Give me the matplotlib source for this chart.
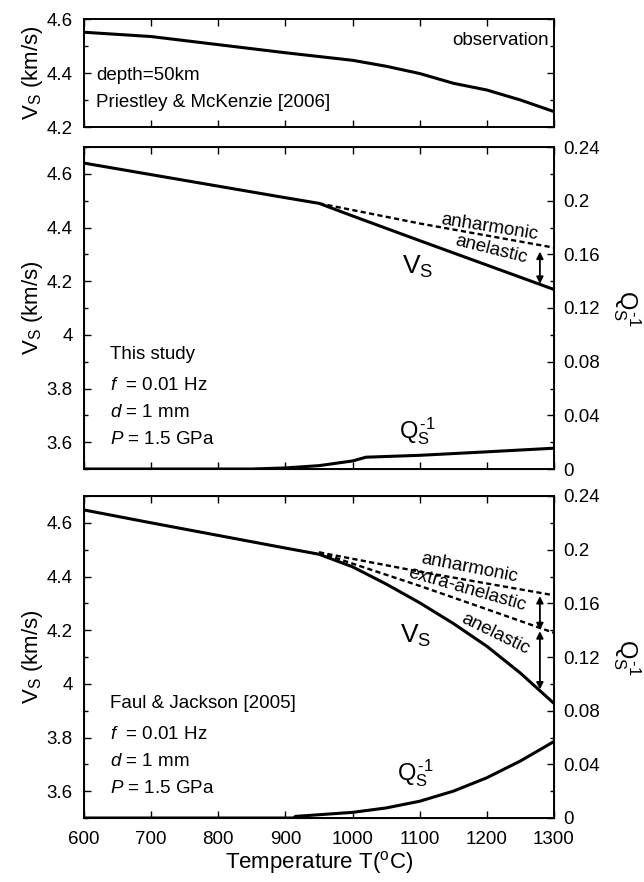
import matplotlib
matplotlib.use("Agg")
import matplotlib.pyplot as plt
from matplotlib.ticker import MultipleLocator

plt.rcParams['font.family'] = ['Liberation Sans', 'DejaVu Sans']
plt.rcParams['mathtext.fontset'] = 'custom'
plt.rcParams['mathtext.rm'] = 'Liberation Sans'
plt.rcParams['mathtext.it'] = 'Liberation Sans:italic'
plt.rcParams['mathtext.bf'] = 'Liberation Sans:bold'

# ---- data ----
obs_T = [600, 700, 800, 900, 1000, 1050, 1100, 1150, 1200, 1250, 1300]
obs_V = [4.551, 4.535, 4.505, 4.475, 4.447, 4.425, 4.398, 4.362, 4.337, 4.300, 4.257]

# This study
mid_T_vs = [600, 700, 800, 900, 950, 1000, 1100, 1200, 1300]
mid_vs = [4.640, 4.597, 4.554, 4.511, 4.490, 4.443, 4.351, 4.260, 4.169]
mid_T_anh = [950, 1000, 1100, 1200, 1300]
mid_anh = [4.490, 4.465, 4.415, 4.370, 4.325]
mid_T_q = [600, 850, 900, 950, 1000, 1020, 1100, 1200, 1300]
mid_q = [0.0, 0.0, 0.0008, 0.0025, 0.006, 0.0088, 0.0102, 0.0128, 0.0155]

# Faul & Jackson
bot_T_vs = [600, 700, 800, 900, 950, 1000, 1050, 1100, 1150, 1200, 1250, 1300]
bot_vs = [4.648, 4.600, 4.553, 4.506, 4.483, 4.436, 4.372, 4.302, 4.225, 4.140, 4.040, 3.927]
bot_T_anh = [950, 1000, 1100, 1200, 1300]
bot_anh = [4.490, 4.466, 4.418, 4.374, 4.330]
bot_T_ext = [950, 1000, 1100, 1200, 1300]
bot_ext = [4.490, 4.448, 4.365, 4.278, 4.190]
bot_T_q = [600, 912, 915, 1000, 1050, 1100, 1150, 1200, 1250, 1300]
bot_q = [0.0, 0.0, 0.0012, 0.0042, 0.0075, 0.0125, 0.020, 0.030, 0.0425, 0.057]

xticks = [600, 700, 800, 900, 1000, 1100, 1200, 1300]

fig = plt.figure(figsize=(6.44, 8.82), dpi=100)
L, W = 84 / 644, 470 / 644
ax0 = fig.add_axes([L, 1 - 127 / 882, W, 108 / 882])
ax1 = fig.add_axes([L, 1 - 469 / 882, W, 322 / 882])
ax2 = fig.add_axes([L, 1 - 818 / 882, W, 322 / 882])

FS = 13.5
LW = 2.2
YLFS = 16
QFS = 17
QLAB = 'Q$_\\mathrm{S}^{\\,\\mathrm{\u20101}}$'

def style(ax, labelbottom=False, right=True):
    ax.set_xlim(600, 1300)
    ax.set_xticks(xticks)
    for s in ax.spines.values():
        s.set_linewidth(1.4)
    ax.tick_params(which='both', direction='in', top=True, right=right,
                   labelbottom=labelbottom, labelsize=FS, width=1.0)
    ax.tick_params(which='major', length=5)
    ax.tick_params(which='minor', length=3)
    ax.tick_params(axis='y', pad=8)
    ax.tick_params(axis='x', pad=9)

# top panel
ax0.plot(obs_T, obs_V, color='black', lw=LW)
ax0.set_ylim(4.2, 4.6)
ax0.yaxis.set_major_locator(MultipleLocator(0.2))
ax0.yaxis.set_minor_locator(MultipleLocator(0.1))
style(ax0)
ax0.set_ylabel('V$_\\mathrm{S}$ (km/s)', fontsize=YLFS, labelpad=1)
ax0.text(1292, 4.52, 'observation', fontsize=FS, ha='right', va='center')
ax0.text(618, 4.39, 'depth=50km', fontsize=FS, ha='left', va='center')
ax0.text(618, 4.29, 'Priestley & McKenzie [2006]', fontsize=FS, ha='left', va='center')

def vs_panel(ax, lab_lines):
    ax.set_ylim(3.5, 4.7)
    ax.yaxis.set_minor_locator(MultipleLocator(0.1))
    ax.set_yticks([3.6, 3.8, 4.0, 4.2, 4.4, 4.6])
    ax.set_yticklabels(['3.6', '3.8', '4', '4.2', '4.4', '4.6'])
    ax.set_ylabel('V$_\\mathrm{S}$ (km/s)', fontsize=YLFS, labelpad=1)
    ys = [3.925, 3.81, 3.71, 3.61]
    for t, y in zip(lab_lines, ys):
        ax.text(638, y, t, fontsize=FS, ha='left', va='center')
    axr = ax.twinx()
    axr.set_ylim(0, 0.24)
    axr.set_yticks([0, 0.04, 0.08, 0.12, 0.16, 0.2, 0.24])
    axr.set_yticklabels(['0', '0.04', '0.08', '0.12', '0.16', '0.2', '0.24'])
    axr.yaxis.set_minor_locator(MultipleLocator(0.02))
    axr.tick_params(which='both', direction='in', labelsize=FS, width=1.0)
    axr.tick_params(which='major', length=5, pad=7)
    axr.tick_params(which='minor', length=3)
    axr.set_ylabel(QLAB, fontsize=QFS, rotation=270, va='center', ha='center')
    axr.yaxis.set_label_coords(1.155, 0.5)
    return axr

ARW = dict(arrowstyle='<|-|>', color='black', lw=1.3,
           mutation_scale=10, shrinkA=0, shrinkB=0)
DASH = (0, (2.2, 1.4))

# middle panel
style(ax1, right=False)
r1 = vs_panel(ax1, ['This study', '$f$  = 0.01 Hz', '$d$ = 1 mm', '$P$ = 1.5 GPa'])
ax1.plot(mid_T_anh, mid_anh, color='black', lw=1.7, ls=DASH)
ax1.plot(mid_T_vs, mid_vs, color='black', lw=LW)
r1.plot(mid_T_q, mid_q, color='black', lw=LW)
ax1.text(1204, 4.402, 'anharmonic', fontsize=FS, ha='center', va='center', rotation=-9)
ax1.text(1207, 4.318, 'anelastic', fontsize=FS, ha='center', va='center', rotation=-14)
ax1.text(1097, 4.255, 'V$_\\mathrm{S}$', fontsize=19, ha='center', va='center')
ax1.text(1097, 3.64, QLAB, fontsize=QFS, ha='center', va='center')
ax1.annotate('', xy=(1279, 4.31), xytext=(1279, 4.19), arrowprops=ARW)

# bottom panel
style(ax2, labelbottom=True, right=False)
r2 = vs_panel(ax2, ['Faul & Jackson [2005]', '$f$  = 0.01 Hz', '$d$ = 1 mm', '$P$ = 1.5 GPa'])
ax2.plot(bot_T_anh, bot_anh, color='black', lw=1.7, ls=DASH)
ax2.plot(bot_T_ext, bot_ext, color='black', lw=1.7, ls=DASH)
ax2.plot(bot_T_vs, bot_vs, color='black', lw=LW)
r2.plot(bot_T_q, bot_q, color='black', lw=LW)
ax2.text(1174, 4.432, 'anharmonic', fontsize=FS, ha='center', va='center', rotation=-11)
ax2.text(1171, 4.352, 'extra-anelastic', fontsize=FS, ha='center', va='center', rotation=-16)
ax2.text(1213, 4.184, 'anelastic', fontsize=FS, ha='center', va='center', rotation=-26)
ax2.text(1094, 4.178, 'V$_\\mathrm{S}$', fontsize=19, ha='center', va='center')
ax2.text(1094, 3.668, QLAB, fontsize=QFS, ha='center', va='center')
ax2.annotate('', xy=(1279, 4.327), xytext=(1279, 4.200), arrowprops=ARW)
ax2.annotate('', xy=(1279, 4.196), xytext=(1279, 3.979), arrowprops=ARW)
ax2.set_xlabel('Temperature T($^\\mathrm{o}$C)', fontsize=YLFS, labelpad=1)

fig.savefig('out.png', dpi=100)
